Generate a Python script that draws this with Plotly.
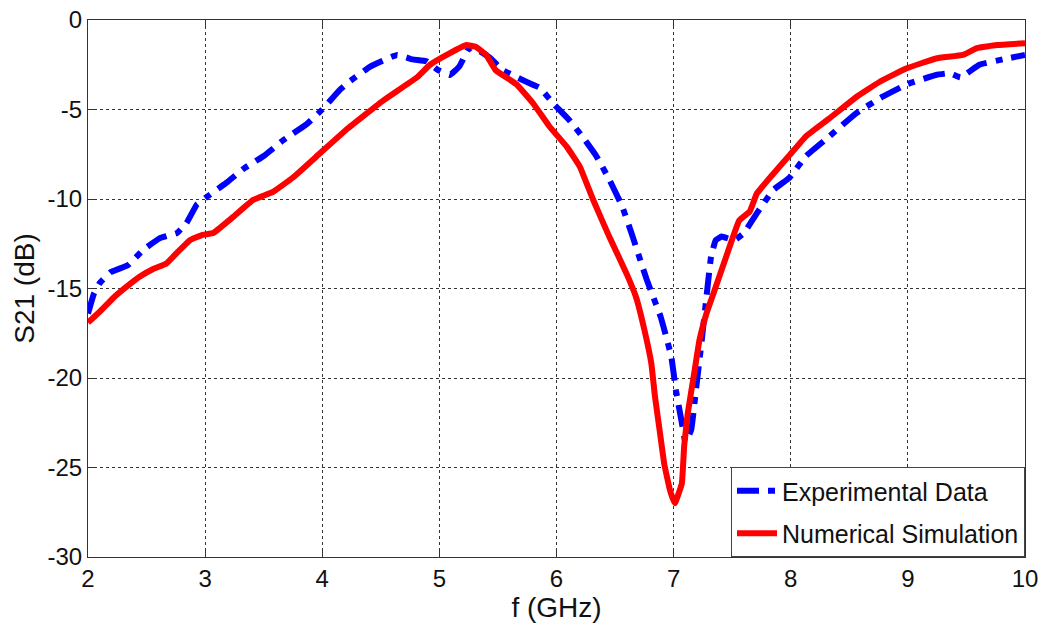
import plotly.graph_objects as go

# Experimental data (blue, dash-dot)
exp_f = [2.0, 2.05, 2.1, 2.19, 2.34, 2.47, 2.61, 2.76, 2.84, 2.93, 3.0, 3.18, 3.33, 3.5, 3.67,
         3.87, 4.0, 4.15, 4.24, 4.41, 4.64, 4.77, 4.89, 4.99, 5.09, 5.17, 5.24, 5.28, 5.43,
         5.54, 5.71, 5.86, 5.97, 6.11, 6.22, 6.34, 6.45, 6.56, 6.64, 6.77, 6.89, 6.98, 7.02,
         7.07, 7.1, 7.15, 7.19, 7.24, 7.28, 7.32, 7.36, 7.41, 7.52, 7.6, 7.71, 7.85, 7.99,
         8.13, 8.33, 8.56, 8.78, 8.99, 9.24, 9.36, 9.45, 9.61, 9.81, 10.0]
exp_s21 = [-16.4, -15.3, -14.7, -14.1, -13.7, -12.85, -12.2, -11.9, -11.35, -10.3, -9.95, -9.1,
           -8.3, -7.6, -6.7, -5.8, -5.0, -3.9, -3.4, -2.6, -1.95, -2.2, -2.3, -2.8, -3.07, -2.6,
           -1.7, -1.5, -2.1, -2.8, -3.35, -3.8, -4.65, -5.6, -6.5, -7.6, -8.9, -10.4, -11.9,
           -14.5, -16.6, -18.8, -20.7, -22.5, -23.6, -22.9, -20.7, -17.9, -15.5, -13.2, -12.3,
           -12.1, -12.3, -11.9, -10.8, -9.5, -8.8, -7.6, -6.5, -5.2, -4.3, -3.6, -3.07, -2.97,
           -3.2, -2.5, -2.2, -1.95]

# Numerical simulation (red, solid)
sim_f = [2.0, 2.1, 2.22, 2.33, 2.44, 2.56, 2.67, 2.76, 2.87, 2.98, 3.07, 3.24, 3.41, 3.58, 3.75,
         3.98, 4.22, 4.52, 4.81, 4.92, 5.09, 5.23, 5.31, 5.4, 5.48, 5.66, 5.8, 5.94, 6.09, 6.2,
         6.31, 6.45, 6.6, 6.68, 6.75, 6.81, 6.84, 6.88, 6.92, 6.97, 7.01, 7.07, 7.09, 7.12,
         7.18, 7.22, 7.28, 7.36, 7.45, 7.56, 7.65, 7.71, 7.85, 7.99, 8.13, 8.33, 8.56, 8.76,
         8.99, 9.24, 9.47, 9.59, 9.76, 10.0]
sim_s21 = [-16.9, -16.3, -15.5, -14.9, -14.35, -13.9, -13.6, -13.0, -12.3, -12.0, -11.9, -11.0,
           -10.05, -9.6, -8.8, -7.45, -6.05, -4.5, -3.2, -2.5, -1.85, -1.4, -1.5, -1.95, -2.8,
           -3.6, -4.65, -5.95, -7.1, -8.2, -10.0, -12.1, -14.2, -15.5, -17.3, -19.2, -21.0,
           -22.9, -24.8, -26.3, -27.0, -25.9, -23.8, -22.0, -19.55, -17.9, -16.4, -14.9, -13.2,
           -11.2, -10.7, -9.7, -8.6, -7.55, -6.5, -5.5, -4.3, -3.45, -2.7, -2.15, -1.95, -1.57,
           -1.4, -1.3]

x_ticks = [2, 3, 4, 5, 6, 7, 8, 9, 10]
y_ticks = [0, -5, -10, -15, -20, -25, -30]

font = "Liberation Sans, Arial, sans-serif"

fig = go.Figure()
fig.add_trace(go.Scatter(x=exp_f, y=exp_s21, mode="lines", name="Experimental Data",
                         legendgroup="a",
                         line=dict(color="#0000ff", width=6, dash="22px,9px,7px,9px",
                                   shape="spline", smoothing=0.3)))
fig.add_trace(go.Scatter(x=sim_f, y=sim_s21, mode="lines", name="Numerical Simulation",
                         legendgroup="b",
                         line=dict(color="#ff0000", width=6, shape="spline", smoothing=0.3)))

axis_common = dict(showline=True, linecolor="#333", linewidth=1, mirror="ticks",
                   ticks="inside", ticklen=6, tickcolor="#333", automargin=False,
                   ticklabeloverflow="allow",
                   showgrid=True, gridcolor="#333", gridwidth=1, griddash="dot",
                   zeroline=False, tickfont=dict(family=font, size=24, color="#111"))

fig.update_layout(
    width=1044, height=624,
    margin=dict(l=88, r=19, t=20, b=67),
    paper_bgcolor="white", plot_bgcolor="white",
    font=dict(family=font, color="#111"),
    xaxis=dict(range=[2, 10], tickvals=x_ticks, ticktext=[str(v) for v in x_ticks],
               title=dict(text="f (GHz)", font=dict(family=font, size=28), standoff=0),
               **axis_common),
    yaxis=dict(range=[-30, 0], tickvals=y_ticks, ticktext=[str(v) for v in y_ticks],
               title=dict(text="S21 (dB)", font=dict(family=font, size=28), standoff=4),
               **axis_common),
    legend=dict(x=1, y=0, xanchor="right", yanchor="bottom",
                bgcolor="white", bordercolor="#444", borderwidth=1,
                font=dict(family=font, size=25, color="#111"),
                itemwidth=40, tracegroupgap=7, traceorder="grouped"),
    showlegend=True,
)

# remove the default 8px page margin so the figure fills the window exactly
fig.write_html("out.html", config={"displayModeBar": False},
               post_script="document.body.style.margin='0';document.body.style.overflow='hidden';")
